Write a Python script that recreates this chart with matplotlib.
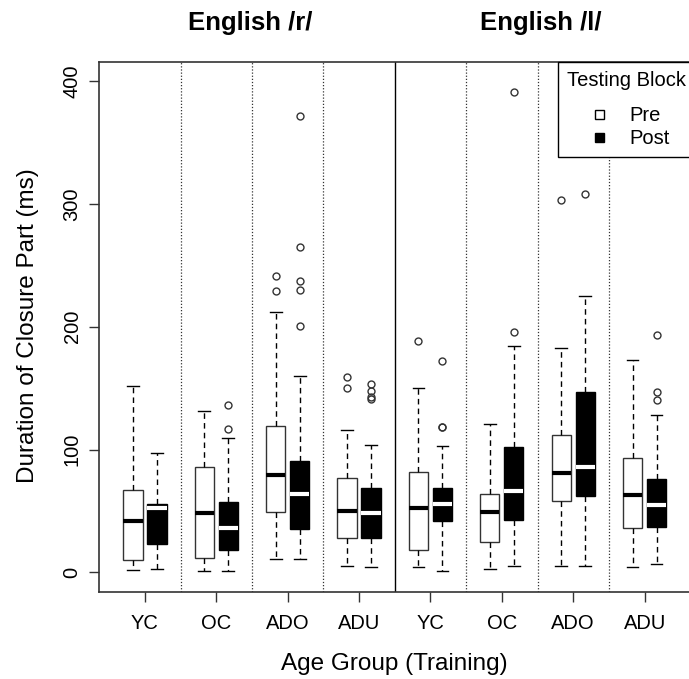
import numpy as np
import matplotlib
matplotlib.use("Agg")
import matplotlib.pyplot as plt
from matplotlib.patches import Patch, Rectangle
from matplotlib.legend_handler import HandlerPatch

plt.rcParams["font.family"] = ["Liberation Sans", "DejaVu Sans"]

# --- Data (ms), one entry per age group ---
groups = ["YC", "OC", "ADO", "ADU"]
sounds = ["English /r/", "English /l/"]

# English /r/, Pre
r_pre_lo = [2, 1, 11, 5]
r_pre_q1 = [10, 12, 49, 28]
r_pre_med = [42, 48, 79, 50]
r_pre_q3 = [67, 86, 119, 77]
r_pre_hi = [152, 131, 212, 116]
r_pre_out = [[], [], [241, 229], [159, 150]]

# English /r/, Post
r_post_lo = [3, 1, 11, 4]
r_post_q1 = [23, 18.5, 35, 28]
r_post_med = [52, 36, 64, 48]
r_post_q3 = [56, 57, 91, 69]
r_post_hi = [97, 109, 160, 104]
r_post_out = [[], [136, 117], [372, 265, 237, 230, 201], [153, 148, 143, 141]]

# English /l/, Pre
l_pre_lo = [4, 3, 5, 4]
l_pre_q1 = [18, 25, 58, 36]
l_pre_med = [52, 49, 81, 63]
l_pre_q3 = [82, 64, 112, 93]
l_pre_hi = [150, 121, 183, 173]
l_pre_out = [[188], [], [303], []]

# English /l/, Post
l_post_lo = [1, 5, 5, 7]
l_post_q1 = [42, 43, 62, 37]
l_post_med = [56, 66, 86, 54.5]
l_post_q3 = [69, 102, 147, 76]
l_post_hi = [103, 184, 225, 128]
l_post_out = [[172, 118, 118], [391, 196], [308], [193, 147, 140]]


def make_stats(lo, q1, med, q3, hi, out):
    return [dict(whislo=a, q1=b, med=c, q3=d, whishi=e, fliers=f)
            for a, b, c, d, e, f in zip(lo, q1, med, q3, hi, out)]


def square_handle(legend, orig_handle, xdescent, ydescent, width, height, fontsize):
    # small square sitting a bit right of the handle box centre
    s = 0.45 * fontsize
    return Rectangle((-xdescent + 0.58 * width - s / 2, -ydescent + height / 2 - s / 2), s, s)


pre_stats = (make_stats(r_pre_lo, r_pre_q1, r_pre_med, r_pre_q3, r_pre_hi, r_pre_out)
             + make_stats(l_pre_lo, l_pre_q1, l_pre_med, l_pre_q3, l_pre_hi, l_pre_out))
post_stats = (make_stats(r_post_lo, r_post_q1, r_post_med, r_post_q3, r_post_hi, r_post_out)
              + make_stats(l_post_lo, l_post_q1, l_post_med, l_post_q3, l_post_hi, l_post_out))

W, H = 689, 679
fig = plt.figure(figsize=(W / 100, H / 100), dpi=100)
ax = fig.add_axes([98.9 / W, (H - 592) / H, (690.7 - 98.9) / W, (592 - 61.5) / H])

pos = np.arange(1, 9)
off = 0.168
box_w = 0.27
edge = "#333333"

common = dict(widths=box_w, patch_artist=True, capwidths=0.165,
              whiskerprops=dict(color="black", lw=1, linestyle=(0, (4, 3))),
              capprops=dict(color="black", lw=1),
              flierprops=dict(marker="o", markerfacecolor="none",
                              markeredgecolor=edge, markersize=5, markeredgewidth=1))

ax.bxp(pre_stats, positions=pos - off,
       boxprops=dict(facecolor="white", edgecolor=edge, lw=1),
       medianprops=dict(color="black", lw=3, solid_capstyle="butt"),
       **common)
ax.bxp(post_stats, positions=pos + off,
       boxprops=dict(facecolor="black", edgecolor="black", lw=1),
       medianprops=dict(color="white", lw=3, solid_capstyle="butt"),
       **common)

# group separators
for x in [1.5, 2.5, 3.5, 5.5, 6.5, 7.5]:
    ax.axvline(x, color=edge, lw=0.9, ls=(0, (1, 1.5)), zorder=0)
ax.axvline(4.5, color="black", lw=1, zorder=0)

ax.set_xlim(0.354, 8.646)
ax.set_ylim(-16, 416)
ax.set_xticks(pos)
ax.set_xticklabels(groups * 2, fontsize=14.5)
ax.set_yticks([0, 100, 200, 300, 400])
ax.set_yticklabels(["0", "100", "200", "300", "400"], fontsize=14.5,
                   rotation=90, va="center")
ax.tick_params(axis="x", length=7.5, width=1, color=edge, pad=8)
ax.tick_params(axis="y", length=7.5, width=1, color=edge, pad=5)
for s in ax.spines.values():
    s.set_color(edge)
    s.set_linewidth(1.2)

ax.set_xlabel("Age Group (Training)", fontsize=17.5, labelpad=15)
fig.text(28 / W, 1 - 326 / H, "Duration of Closure Part (ms)", fontsize=17.5,
         rotation=90, ha="center", va="center")

fig.text(250 / W, 1 - 23 / H, sounds[0], fontsize=18.5, fontweight="bold",
         ha="center", va="center")
fig.text(541 / W, 1 - 23 / H, sounds[1], fontsize=18.5, fontweight="bold",
         ha="center", va="center")

handles = [Patch(facecolor="white", edgecolor="black", lw=1, label="Pre"),
           Patch(facecolor="black", edgecolor="black", lw=1, label="Post")]
leg = ax.legend(handles=handles, title="Testing Block", loc="upper right",
                bbox_to_anchor=(1.0 + 4 / 591.8, 1.0), fontsize=14.5,
                title_fontsize=14.5, frameon=True, fancybox=False, framealpha=1,
                edgecolor="black", handlelength=2.83, handleheight=0.5,
                handletextpad=0.3, labelspacing=0.2, borderpad=0.45,
                borderaxespad=0, alignment="left",
                handler_map={Patch: HandlerPatch(patch_func=square_handle)})
leg.get_frame().set_linewidth(1)
leg._legend_box.sep = 12
leg.set_zorder(5)

fig.savefig("out.png", dpi=100)
